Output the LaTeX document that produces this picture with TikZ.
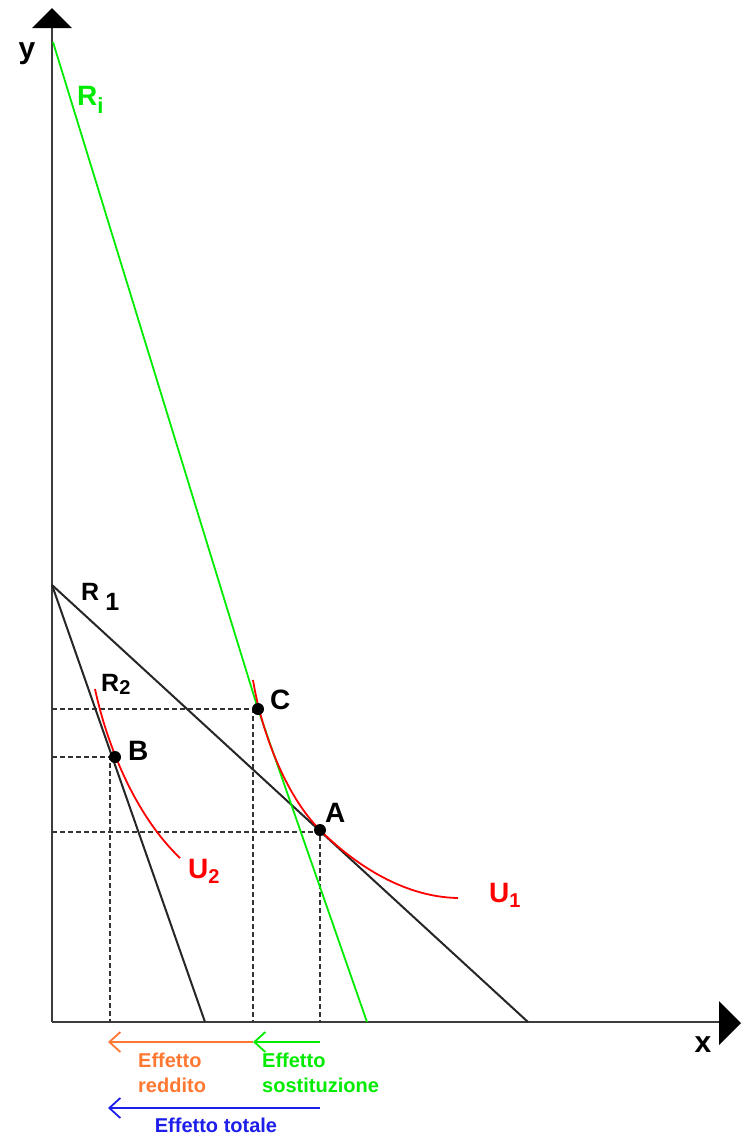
\documentclass[tikz,border=0pt]{standalone}
\usepackage{fontspec}
\setmainfont{Liberation Sans}
\usepackage{xcolor}
\definecolor{ligreen}{RGB}{0,235,0}
\definecolor{redorange}{RGB}{255,120,50}
\definecolor{totblue}{RGB}{30,30,235}
\definecolor{utred}{RGB}{255,0,0}
\definecolor{axgray}{RGB}{60,60,60}
\usetikzlibrary{arrows.meta, calc}
\newcommand{\lowidx}[3]{\raisebox{-#1}{\fontsize{#2}{#2}\selectfont #3}}

\begin{document}
\begin{tikzpicture}[x=1pt, y=-1pt,
  axis/.style={line width=2.2pt, axgray},
  budget/.style={line width=2pt, black!85},
  curve/.style={line width=1.8pt, utred},
  guide/.style={line width=1.5pt, dash pattern=on 5pt off 3pt, black!80},
  dot/.style={circle, fill=black, inner sep=0pt, minimum size=12pt},
  lbl/.style={font=\bfseries\fontsize{28}{30}\selectfont, anchor=base west, inner sep=0pt},
  effect/.style={line width=1.8pt, -{Straight Barb[length=11pt, width=20pt, line width=1.8pt]}},
  efflabel/.style={font=\bfseries\fontsize{20}{25}\selectfont, align=left, inner sep=0pt},
]
  \useasboundingbox (0,0) rectangle (745,1136);

  % Axes
  \coordinate (O) at (52,1022);
  \coordinate (ytop) at (52,28);
  \coordinate (xend) at (719,1022);
  \draw[axis] (O) -- (ytop);
  \draw[axis] (O) -- (xend);
  \fill (32,28) -- (52,8) -- (72,28) -- cycle;
  \fill (719,1001) -- (741,1023) -- (719,1045) -- cycle;
  \node[font=\bfseries\fontsize{30}{32}\selectfont, anchor=base, inner sep=0pt] (ylab) at (27,58) {y};
  \node[font=\bfseries\fontsize{30}{32}\selectfont, anchor=base, inner sep=0pt] (xlab) at (703,1052) {x};

  % Optimal points
  \coordinate (C) at (258,709);
  \coordinate (B) at (115,757);
  \coordinate (A) at (320,830);

  % Dashed guides
  \coordinate (yC) at (52,709);
  \coordinate (yB) at (52,757);
  \coordinate (yA) at (52,832);
  \coordinate (xC) at (253,1022);
  \coordinate (xB) at (110,1022);
  \coordinate (xA) at (320,1022);
  \draw[guide] (yC) -| (xC);
  \draw[guide] (yB) -| (xB);
  \draw[guide] (yA) -| (xA);

  % Budget lines
  \coordinate (R1top) at (52,585);
  \coordinate (R1foot) at (528,1022);
  \coordinate (R2foot) at (205,1022);
  \coordinate (Ritop) at (53,42);
  \coordinate (Rifoot) at (367,1022);
  \draw[budget] (R1top) -- (R1foot);
  \draw[budget] (R1top) -- (R2foot);
  \draw[line width=1.8pt, ligreen] (Ritop) -- (C) -- (Rifoot);

  % Indifference curves
  \draw[curve] (253,680) .. controls (261,730) and (285,795) .. (A)
    .. controls (350,860) and (400,897) .. (458,898);
  \draw[curve] (95,689) .. controls (107,745) and (135,815) .. (180,858);

  % Dots on top
  \node[dot] (dC) at (C) {};
  \node[dot] (dB) at (B) {};
  \node[dot] (dA) at (A) {};

  % Labels
  \node[lbl, ligreen] (lRi) at (77,105) {R\lowidx{8pt}{22}{i}};
  \node[lbl, font=\bfseries\fontsize{25}{27}\selectfont] (lR1) at (81,600) {R\hspace{6pt}\lowidx{10pt}{25}{1}};
  \node[lbl, font=\bfseries\fontsize{25}{27}\selectfont] (lR2) at (101,691) {R\lowidx{3pt}{20}{2}};
  \node[lbl] (lC) at (270,709) {C};
  \node[lbl] (lB) at (128,760) {B};
  \node[lbl] (lA) at (325,822) {A};
  \node[lbl, utred] (lU1) at (489,902) {U\lowidx{5pt}{20}{1}};
  \node[lbl, utred] (lU2) at (188,878) {U\lowidx{5pt}{20}{2}};

  % Effects
  \coordinate (eA) at (320,1042);
  \coordinate (eC) at (253,1042);
  \coordinate (eB) at (108,1042);
  \coordinate (tA) at (320,1108);
  \coordinate (tB) at (108,1108);
  \draw[effect, ligreen] (eA) -- (eC);
  \draw[effect, redorange] (eC) -- (eB);
  \draw[effect, totblue] (tA) -- (tB);
  \node[efflabel, redorange, anchor=north west] (lred) at (138,1053) {Effetto\\reddito};
  \node[efflabel, ligreen, anchor=north west] (lsost) at (262,1053) {Effetto\\sostituzione};
  \node[efflabel, totblue, anchor=base] (ltot) at (216,1132) {Effetto totale};
\end{tikzpicture}
\end{document}
